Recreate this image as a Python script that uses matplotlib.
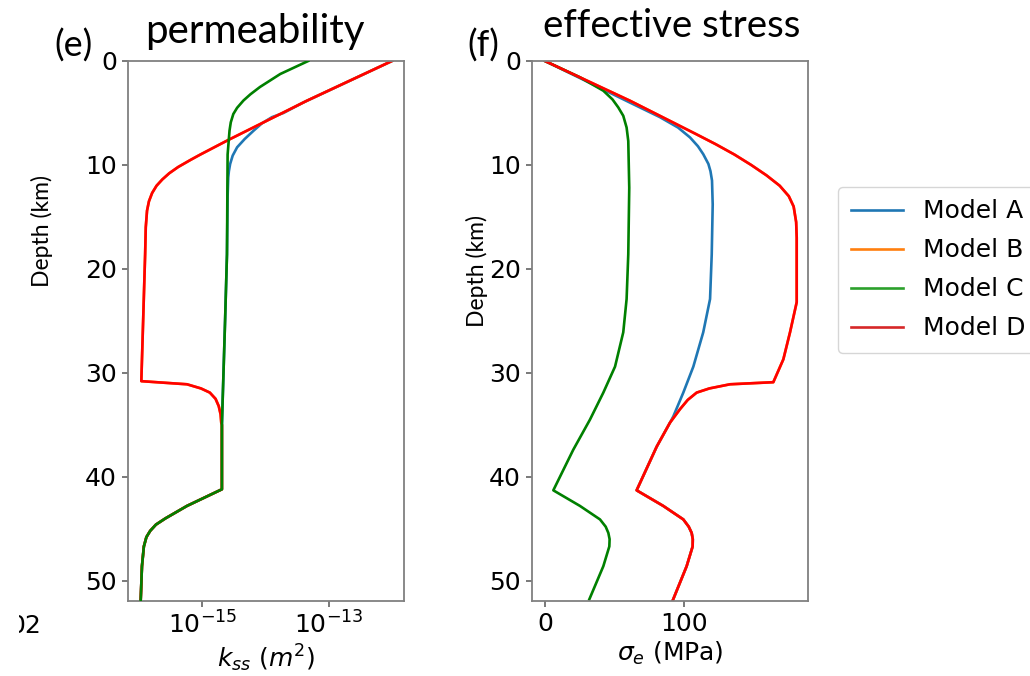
import numpy as np
import matplotlib
matplotlib.use("Agg")
import matplotlib.pyplot as plt
from matplotlib.lines import Line2D
from matplotlib.patches import Rectangle

# --- permeability panel (log10 k_ss in m^2 vs depth in km) ---
perm_depth_a = [0, 2, 4, 5, 5.4, 6.0, 6.7, 7.5, 8.3, 9.1, 9.9, 10.6, 11.2, 13, 18.6, 25, 35,
                41.2, 42.8, 44.0, 44.6, 45.2, 45.8, 46.7, 48.6, 51.9]
perm_logk_a = [-12.01, -12.71, -13.41, -13.72, -13.90, -14.06, -14.19, -14.33, -14.45, -14.52,
               -14.56, -14.58, -14.59, -14.60, -14.61, -14.64, -14.69,
               -14.69, -15.24, -15.58, -15.73, -15.82, -15.88, -15.92, -15.95, -15.97]

perm_depth_c = [0, 1.25, 2.5, 3.2, 3.8, 4.5, 5.1, 5.9, 6.7, 9.0, 18.6, 25, 35,
                41.2, 42.8, 44.0, 44.6, 45.2, 45.8, 46.7, 48.6, 51.9]
perm_logk_c = [-13.33, -13.77, -14.09, -14.24, -14.35, -14.45, -14.51, -14.55, -14.57, -14.60,
               -14.61, -14.64, -14.69,
               -14.69, -15.24, -15.58, -15.73, -15.82, -15.88, -15.92, -15.95, -15.97]

perm_depth_d = [0, 3.82, 7.6, 9.0, 9.5, 10.2, 10.8, 11.4, 12.0, 12.7, 13.5, 14.4, 16, 18.6, 30.8,
                31.1, 31.5, 31.9, 32.5, 33.2, 34.0, 34.8, 35,
                41.2, 42.8, 44.0, 44.6, 45.2, 45.8, 46.7, 48.6, 51.9]
perm_logk_d = [-12.01, -13.35, -14.59, -15.03, -15.18, -15.38, -15.52, -15.63, -15.72, -15.79,
               -15.84, -15.87, -15.89, -15.90, -15.96,
               -15.24, -15.02, -14.88, -14.79, -14.74, -14.71, -14.70, -14.69,
               -14.69, -15.24, -15.58, -15.73, -15.82, -15.88, -15.92, -15.95, -15.97]

# --- effective stress panel (MPa vs depth in km) ---
stress_depth_a = [0, 2, 4, 5.4, 6.4, 7.35, 8.2, 8.96, 9.9, 10.6, 11.5, 13.8, 18.6, 22.9, 26.1,
                  29.4, 31.9, 34.2, 34.8, 37.1, 41.3, 42.8, 44.1, 44.8, 45.4, 46.0, 46.7,
                  48.6, 51.9]
stress_a = [0, 30.6, 61.0, 82.5, 95.5, 104.1, 109.8, 113.6, 117.3, 118.8, 119.9, 120.4, 119.7,
            118.5, 113.6, 106.5, 99.3, 92.1, 89.7, 80.2, 65.8, 84.9, 99.3, 103.2, 105.3,
            106.1, 106.0, 101.7, 91.7]

stress_depth_c = [0, 1.57, 2.86, 3.7, 4.46, 5.27, 6.4, 7.7, 12.2, 18.6, 22.9, 26.1, 29.4, 31.9,
                  34.5, 37.4, 41.3, 42.8, 44.1, 44.8, 45.4, 46.0, 46.7, 48.6, 51.8]
stress_c = [0, 25.1, 41.9, 48.5, 52.6, 56.2, 58.6, 59.8, 60.5, 59.8, 58.6, 56.2, 50.3, 41.9,
            32.3, 20.3, 6.0, 25.1, 39.5, 43.6, 45.5, 46.4, 46.2, 41.9, 31.8]

stress_depth_d = [0, 3.82, 7.0, 8.0, 9.0, 10.0, 11.0, 12.0, 13.0, 14.0, 15.5, 17.0, 23.2, 26.1,
                  28.7, 30.9, 31.1, 31.5, 31.9, 32.6, 33.5, 34.8, 37.1, 41.3, 42.8, 44.1, 44.8,
                  45.4, 46.0, 46.7, 48.6, 51.9]
stress_d = [0, 61.0, 108.0, 122.5, 136.0, 148.0, 159.0, 168.5, 175.0, 178.5, 180.3, 180.7, 180.7,
            175.9, 171.1, 163.9, 132.8, 118.0, 108.9, 102.5, 96.9, 89.7, 80.2, 65.8, 84.9,
            99.3, 103.2, 105.3, 106.1, 106.0, 101.7, 91.7]

# Model B is hidden underneath Model D in the figure
perm_depth_b, perm_logk_b = perm_depth_d, perm_logk_d
stress_depth_b, stress_b = stress_depth_d, stress_d

model_names = ["Model A", "Model B", "Model C", "Model D"]
line_colors = ["#1f77b4", "#ff7f0e", "#008000", "#ff0000"]
legend_colors = ["#1f77b4", "#ff7f0e", "#2ca02c", "#d62728"]

W, H = 1030, 676
fig = plt.figure(figsize=(W / 100, H / 100), dpi=100)

ax1 = fig.add_axes([128 / W, 1 - 600.5 / H, 276 / W, 539.5 / H])
ax2 = fig.add_axes([532 / W, 1 - 600.5 / H, 276 / W, 539.5 / H])

perm = [(perm_depth_a, perm_logk_a), (perm_depth_b, perm_logk_b),
        (perm_depth_c, perm_logk_c), (perm_depth_d, perm_logk_d)]
stress = [(stress_depth_a, stress_a), (stress_depth_b, stress_b),
          (stress_depth_c, stress_c), (stress_depth_d, stress_d)]

lw = 1.9
for i, (d, lk) in enumerate(perm):
    z = 3 if i == 2 else 2  # green sits on top in the permeability panel
    ax1.plot(np.power(10.0, lk), d, color=line_colors[i], lw=lw, zorder=z)
for i, (d, s) in enumerate(stress):
    ax2.plot(s, d, color=line_colors[i], lw=lw)

ax1.set_xscale("log")
ax1.set_xlim(10 ** -16.17, 10 ** -11.82)
ax1.set_xticks([1e-15, 1e-13])
ax1.xaxis.set_minor_locator(matplotlib.ticker.NullLocator())
ax2.set_xlim(-9.3, 188.8)
ax2.set_xticks([0, 100])

for ax in (ax1, ax2):
    ax.set_ylim(51.9, 0)
    ax.set_yticks([0, 10, 20, 30, 40, 50])
    ax.tick_params(labelsize=18, length=4.5, width=1.1, color="#555555")
    for sp in ax.spines.values():
        sp.set_color("#808080")
        sp.set_linewidth(1.3)

ax1.set_xlabel(r"$k_{ss}$ $(m^2)$", fontsize=18, labelpad=3)
ax2.set_xlabel(r"$\sigma_e$ (MPa)", fontsize=18, labelpad=3)

# overlay labels (added on top of the figure)
fig.text(255 / W, 1 - 43 / H, "permeability", family="Lato", fontsize=29,
         ha="center", va="baseline")
fig.text(672 / W, 1 - 37 / H, "effective stress", family="Lato", fontsize=27.6,
         ha="center", va="baseline")
fig.text(74 / W, 1 - 57 / H, "(e)", family="Lato", fontsize=26, ha="center", va="baseline")
fig.text(483 / W, 1 - 57 / H, "(f)", family="Lato", fontsize=26, ha="center", va="baseline")
fig.text(42 / W, 1 - 231 / H, "Depth (km)", family="Lato", fontsize=16.5,
         rotation=90, ha="center", va="center")
fig.text(477 / W, 1 - 271 / H, "Depth (km)", family="Lato", fontsize=16.5,
         rotation=90, ha="center", va="center")

# cut-off tick label of the neighbouring panel
fig.text(41 / W, 1 - 633 / H, "02", fontsize=18, ha="right", va="baseline")
fig.add_artist(Rectangle((0, 0), 19 / W, 1, transform=fig.transFigure,
                         facecolor="white", edgecolor="none", zorder=10))

handles = [Line2D([], [], color=c, lw=lw) for c in legend_colors]
fig.legend(handles, model_names, loc="lower left", fontsize=18, handlelength=2.1,
           labelspacing=0.6, borderpad=0.5, bbox_to_anchor=(838 / W, 1 - 353 / H),
           bbox_transform=fig.transFigure, borderaxespad=0)

fig.savefig("out.png", dpi=100)
